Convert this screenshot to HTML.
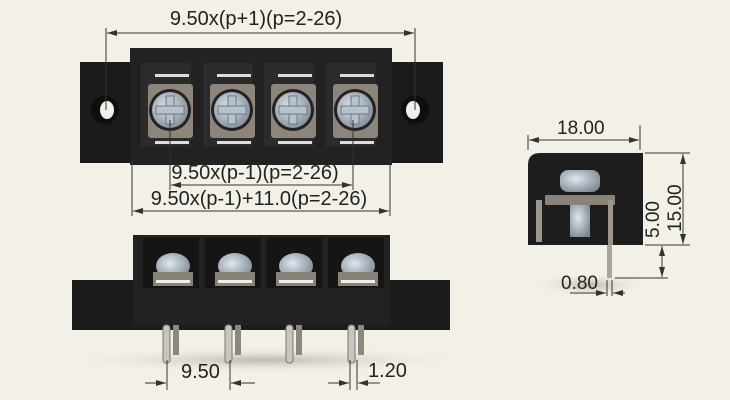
<!DOCTYPE html>
<html><head><style>html,body{margin:0;padding:0;background:#f3f0e8}svg{display:block}</style></head>
<body>
<svg width="730" height="400" xmlns="http://www.w3.org/2000/svg" font-family="Liberation Sans, sans-serif">
<defs>
<marker id="a" viewBox="0 0 10 6" refX="10" refY="3" markerWidth="10" markerHeight="6" orient="auto-start-reverse"><path d="M0,0L10,3L0,6z" fill="#333"/></marker>
<radialGradient id="sc" cx="0.4" cy="0.4" r="0.7"><stop offset="0" stop-color="#dfe6ec"/><stop offset="1" stop-color="#7c8894"/></radialGradient>
<radialGradient id="sh" cx="0.5" cy="0.5" r="0.5"><stop offset="0" stop-color="#bdb8ae"/><stop offset="1" stop-color="#f3f0e8" stop-opacity="0"/></radialGradient>
</defs>
<rect width="730" height="400" fill="#f3f0e8"/>

<!-- TOP VIEW -->
<rect x="80" y="62" width="363" height="101" fill="#1b1b1b"/>
<rect x="130" y="48" width="262" height="117" fill="#222"/>
<circle cx="105" cy="110" r="14" fill="#0e0e0e"/><ellipse cx="107" cy="110" rx="7" ry="9" fill="#f3f0e8"/>
<circle cx="415" cy="110" r="14" fill="#0e0e0e"/><ellipse cx="413" cy="110" rx="7" ry="9" fill="#f3f0e8"/>
<g id="cell">
<rect x="141" y="63" width="50" height="84" fill="#2b2b2b"/>
<rect x="148" y="84" width="45" height="54" fill="#8d857b" rx="3"/>
<rect x="155" y="74" width="34" height="3" fill="#ddd"/><rect x="155" y="141" width="34" height="3" fill="#ddd"/>
<circle cx="170" cy="110" r="21" fill="#222"/>
<circle cx="170" cy="110" r="18" fill="url(#sc)"/>
<rect x="166" y="96" width="8" height="28" fill="#b6c3cd" stroke="#6d7880"/>
<rect x="156" y="106" width="28" height="8" fill="#b6c3cd" stroke="#6d7880"/>
</g>
<use href="#cell" x="62"/><use href="#cell" x="123"/><use href="#cell" x="185"/>

<g stroke="#333" stroke-width="1" fill="none">
<line x1="106" y1="28" x2="106" y2="110"/><line x1="415" y1="28" x2="415" y2="110"/>
<line x1="107" y1="33" x2="414" y2="33" marker-start="url(#a)" marker-end="url(#a)"/>
<line x1="170" y1="120" x2="170" y2="190"/><line x1="353" y1="120" x2="353" y2="190"/>
<line x1="171" y1="185" x2="352" y2="185" marker-start="url(#a)" marker-end="url(#a)"/>
<line x1="132" y1="160" x2="132" y2="216"/><line x1="390" y1="160" x2="390" y2="216"/>
<line x1="133" y1="211" x2="389" y2="211" marker-start="url(#a)" marker-end="url(#a)"/>
</g>
<g font-size="20" fill="#222" text-anchor="middle">
<text x="256" y="25">9.50x(p+1)(p=2-26)</text>
<text x="255" y="179">9.50x(p-1)(p=2-26)</text>
<text x="259" y="205">9.50x(p-1)+11.0(p=2-26)</text>
</g>

<!-- BOTTOM VIEW -->
<ellipse cx="265" cy="360" rx="210" ry="14" fill="url(#sh)"/>
<rect x="72" y="280" width="378" height="50" fill="#1c1c1c"/>
<rect x="133" y="235" width="257" height="90" fill="#222"/>
<g id="bc">
<rect x="143" y="238" width="56" height="50" fill="#151515"/>
<ellipse cx="173" cy="266" rx="17" ry="13" fill="url(#sc)"/>
<rect x="153" y="272" width="40" height="14" fill="#8a8278"/>
<rect x="156" y="280" width="34" height="3" fill="#eee"/>
<rect x="163" y="325" width="7" height="38" rx="3" fill="#c9c6c0" stroke="#777"/>
<rect x="173" y="325" width="6" height="30" fill="#8d877d"/>
</g>
<use href="#bc" x="62"/><use href="#bc" x="123"/><use href="#bc" x="185"/>
<g stroke="#333" fill="none">
<line x1="167" y1="360" x2="167" y2="390"/><line x1="230" y1="360" x2="230" y2="390"/>
<line x1="145" y1="383" x2="166" y2="383" marker-end="url(#a)"/><line x1="255" y1="383" x2="231" y2="383" marker-end="url(#a)"/>
<line x1="350" y1="360" x2="350" y2="390"/><line x1="357" y1="360" x2="357" y2="390"/>
<line x1="328" y1="383" x2="349" y2="383" marker-end="url(#a)"/><line x1="380" y1="383" x2="358" y2="383" marker-end="url(#a)"/>
</g>
<text x="181" y="378" font-size="20" fill="#222">9.50</text>
<text x="368" y="377" font-size="20" fill="#222">1.20</text>

<!-- SIDE VIEW -->
<ellipse cx="590" cy="285" rx="60" ry="12" fill="url(#sh)"/>
<path d="M540,153 H643 V245 H528 V165 Q528,153 540,153z" fill="#1d1d1d"/>
<rect x="560" y="170" width="40" height="22" rx="8" fill="url(#sc)"/>
<rect x="545" y="195" width="70" height="10" fill="#8a8278"/>
<rect x="570" y="205" width="20" height="32" fill="url(#sc)"/>
<rect x="536" y="200" width="6" height="42" fill="#9b958b"/><rect x="608" y="200" width="5" height="45" fill="#9b958b"/>
<rect x="607" y="245" width="5" height="33" fill="#aaa59c"/>
<g stroke="#333" fill="none">
<line x1="528" y1="135" x2="528" y2="150"/><line x1="640" y1="125" x2="640" y2="150"/>
<line x1="529" y1="140" x2="639" y2="140" marker-start="url(#a)" marker-end="url(#a)"/>
<line x1="645" y1="153" x2="690" y2="153"/><line x1="645" y1="245" x2="690" y2="245"/>
<line x1="683" y1="154" x2="683" y2="244" marker-start="url(#a)" marker-end="url(#a)"/>
<line x1="615" y1="278" x2="668" y2="278"/>
<line x1="662" y1="246" x2="662" y2="277" marker-start="url(#a)" marker-end="url(#a)"/>
<line x1="607" y1="280" x2="607" y2="296"/><line x1="612" y1="280" x2="612" y2="296"/>
<line x1="570" y1="293" x2="606" y2="293" marker-end="url(#a)"/><line x1="625" y1="293" x2="613" y2="293" marker-end="url(#a)"/>
</g>
<text x="557" y="134" font-size="19" fill="#222">18.00</text>
<text x="561" y="289" font-size="19" fill="#222">0.80</text>
<text transform="translate(681,232) rotate(-90)" font-size="19" fill="#222">15.00</text>
<text transform="translate(659,238) rotate(-90)" font-size="19" fill="#222">5.00</text>
</svg>
</body></html>
